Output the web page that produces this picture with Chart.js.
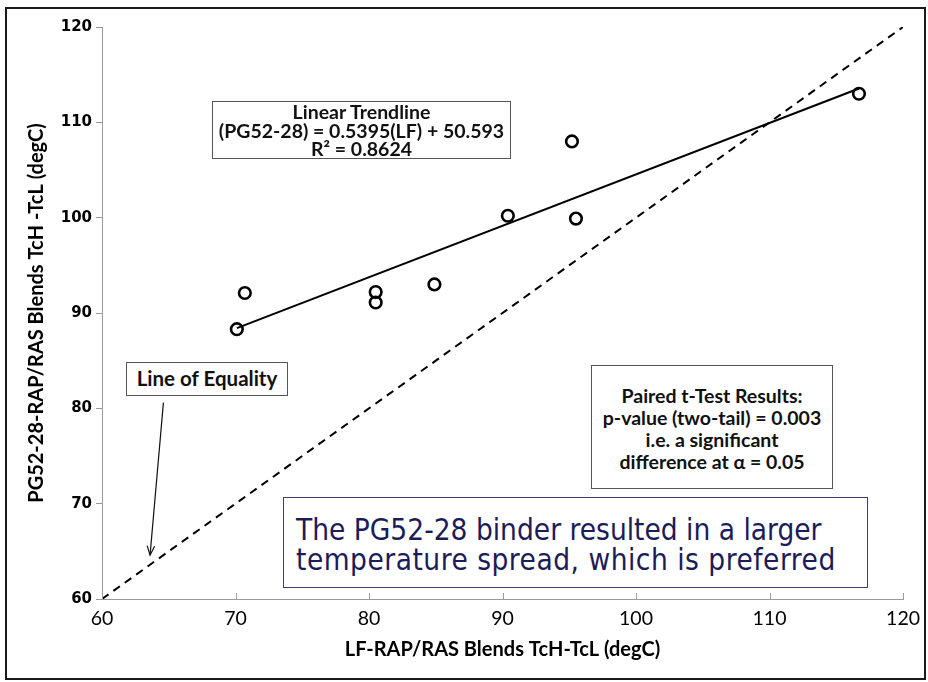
<!DOCTYPE html>
<html>
<head>
<meta charset="utf-8">
<script src="https://cdn.jsdelivr.net/npm/chart.js@4.4.1/dist/chart.umd.min.js"></script>
<style>
html,body{margin:0;padding:0;background:#fff;}
#wrap{position:relative;width:928px;height:682px;overflow:hidden;background:#fff;}
#chart{position:absolute;left:0;top:0;}
.frame{position:absolute;left:5px;top:7px;width:921px;height:673px;border:2px solid #1a1a1a;box-sizing:border-box;pointer-events:none;}
.box{position:absolute;background:#fff;border:1.5px solid #555;box-sizing:border-box;text-align:center;
     font-family:Lato,"Open Sans",sans-serif;font-weight:bold;color:#111;white-space:nowrap;}
#b1{left:212px;top:101px;width:299px;height:58px;font-size:19.5px;line-height:18.5px;padding-top:1px;}
#b2{left:126px;top:362px;width:162px;height:34px;font-size:20.5px;line-height:31px;}
#b3{left:591px;top:365px;width:242px;height:124px;font-size:19.5px;line-height:22px;padding-top:19px;}
#b4{left:283px;top:497px;width:585px;height:91px;border-color:#3e3e6e;text-align:left;font-weight:normal;
    font-family:"DejaVu Sans Condensed","DejaVu Sans",sans-serif;font-stretch:condensed;color:#1c1c58;
    font-size:29.5px;line-height:30px;padding-top:17px;padding-left:12px;}
#b4 .l2{letter-spacing:0.5px;}
</style>
</head>
<body>
<div id="wrap">
<canvas id="chart" width="928" height="682"></canvas>
<div class="box" id="b1">Linear Trendline<br>(PG52-28) = 0.5395(LF) + 50.593<br>R² = 0.8624</div>
<div class="box" id="b2">Line of Equality</div>
<div class="box" id="b3">Paired t-Test Results:<br>p-value (two-tail) = 0.003<br>i.e. a significant<br>difference at α = 0.05</div>
<div class="box" id="b4"><span>The PG52-28 binder resulted in a larger</span><br><span class="l2">temperature spread, which is preferred</span></div>
<div class="frame"></div>
</div>
<script>
// ---- data ----
const lfSpread = [70.1, 70.7, 80.5, 80.5, 84.9, 90.4, 95.2, 95.5, 116.7];   // LF-RAP/RAS TcH-TcL
const pgSpread = [88.3, 92.1, 92.2, 91.1, 93.0, 100.2, 108.0, 99.9, 113.0]; // PG52-28-RAP/RAS TcH-TcL
const trendSlope = [0.5395];
const trendIntercept = [50.593];
const equalityEnds = [60, 120];
const axisTicks = [60, 70, 80, 90, 100, 110, 120];
const arrowFrom = [64.6, 80.6];
const arrowTo = [63.6, 64.6];

const points = lfSpread.map((x, i) => ({x: x, y: pgSpread[i]}));
const xMin = Math.min(...lfSpread), xMax = Math.max(...lfSpread);
const trend = [xMin, xMax].map(x => ({x: x, y: trendSlope[0] * x + trendIntercept[0]}));
const equality = equalityEnds.map(v => ({x: v, y: v}));

const extras = {
  id: 'extras',
  afterDatasetsDraw(chart) {
    const {ctx, scales: {x, y}, chartArea} = chart;
    ctx.save();
    ctx.strokeStyle = '#9a9a9a';
    ctx.lineWidth = 1;
    axisTicks.forEach(v => {
      const px = Math.round(x.getPixelForValue(v)) + 0.5;
      ctx.beginPath();
      ctx.moveTo(px, chartArea.bottom);
      ctx.lineTo(px, chartArea.bottom - 6);
      ctx.stroke();
    });
    const x1 = x.getPixelForValue(arrowFrom[0]), y1 = y.getPixelForValue(arrowFrom[1]);
    const x2 = x.getPixelForValue(arrowTo[0]), y2 = y.getPixelForValue(arrowTo[1]);
    ctx.strokeStyle = '#111';
    ctx.lineWidth = 1.2;
    ctx.beginPath(); ctx.moveTo(x1, y1); ctx.lineTo(x2, y2); ctx.stroke();
    const ang = Math.atan2(y2 - y1, x2 - x1), L = 10, a = 0.38;
    ctx.beginPath();
    ctx.moveTo(x2 - L * Math.cos(ang - a), y2 - L * Math.sin(ang - a));
    ctx.lineTo(x2, y2);
    ctx.lineTo(x2 - L * Math.cos(ang + a), y2 - L * Math.sin(ang + a));
    ctx.stroke();
    ctx.restore();
  }
};

new Chart(document.getElementById('chart'), {
  type: 'scatter',
  data: {
    datasets: [
      {label: 'Equality', data: equality, showLine: true, borderColor: '#000', borderWidth: 2,
       borderDash: [8, 6], pointRadius: 0, fill: false},
      {label: 'Trend', data: trend, showLine: true, borderColor: '#000', borderWidth: 2,
       pointRadius: 0, fill: false},
      {label: 'Blends', data: points, showLine: false, pointRadius: 5.8, pointBorderWidth: 2.6,
       pointBorderColor: '#000', pointBackgroundColor: 'rgba(255,255,255,0)'}
    ]
  },
  options: {
    responsive: false,
    animation: false,
    events: [],
    layout: {padding: {top: 27, right: 20, left: 0, bottom: 0}},
    plugins: {legend: {display: false}, tooltip: {enabled: false}},
    scales: {
      x: {
        type: 'linear', min: 60, max: 120,
        afterFit: s => { s.height = 83; },
        afterBuildTicks: s => { s.ticks = axisTicks.map(v => ({value: v})); },
        ticks: {color: '#000', font: {family: 'Lato', size: 19.5}, padding: 8},
        grid: {display: true, drawOnChartArea: false, drawTicks: false},
        border: {color: '#9a9a9a', width: 1},
        title: {display: true, text: 'LF-RAP/RAS Blends TcH-TcL (degC)', color: '#000',
                font: {family: 'Lato', size: 20, weight: 'bold'}, padding: {top: 0, bottom: 20}}
      },
      y: {
        type: 'linear', min: 60, max: 120,
        afterFit: s => { s.width = 102; },
        afterBuildTicks: s => { s.ticks = axisTicks.map(v => ({value: v})); },
        ticks: {color: '#000', font: {family: 'DejaVu Sans', size: 15, weight: 'bold'}, padding: 4},
        grid: {display: true, drawOnChartArea: false, drawTicks: true, tickLength: 6, color: '#9a9a9a'},
        border: {color: '#9a9a9a', width: 1},
        title: {display: true, text: 'PG52-28-RAP/RAS Blends TcH -TcL (degC)', color: '#000',
                font: {family: 'Lato', size: 20, weight: 'bold'}, padding: {top: 25, bottom: 0}}
      }
    }
  },
  plugins: [extras]
});
</script>
</body>
</html>
